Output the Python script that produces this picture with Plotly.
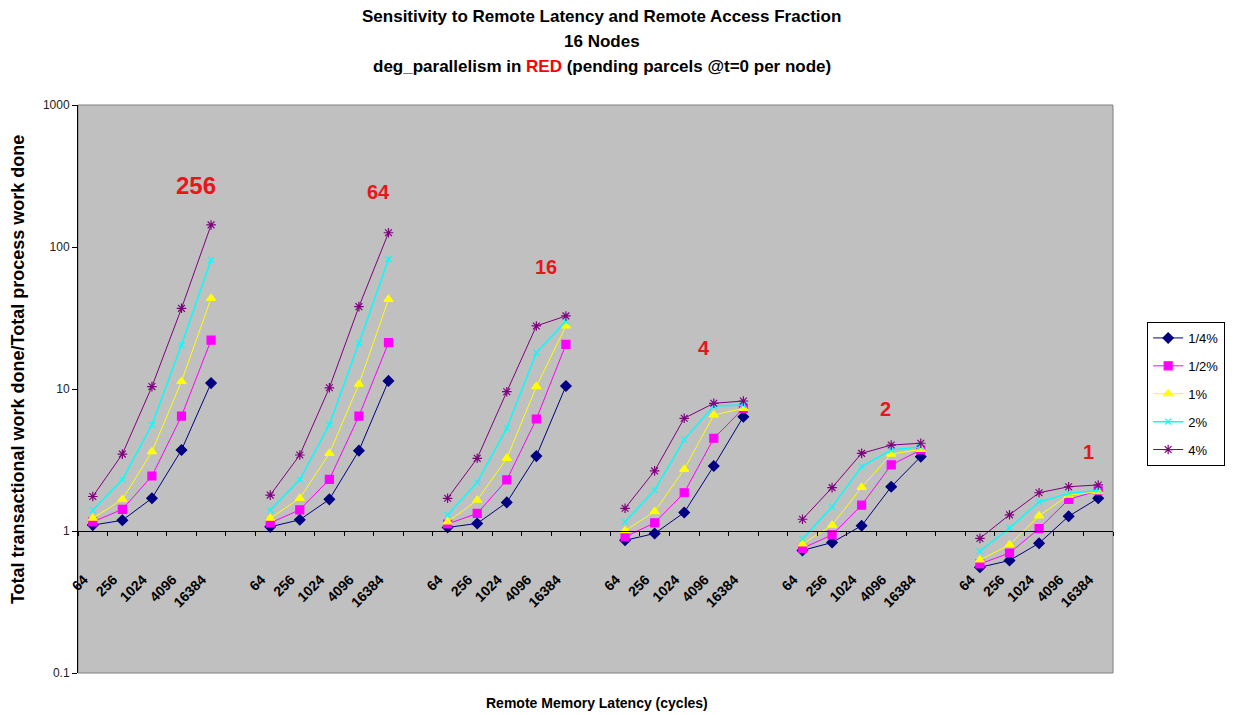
import math
import plotly.graph_objects as go

# Remote memory latency (cycles) sampled within each parallelism group
latencies = ["64", "256", "1024", "4096", "16384"]
# Degree of parallelism (pending parcels at t=0 per node), one group each
parallelism = ["256", "64", "16", "4", "2", "1"]
# Remote access fractions (series)
series_names = ["1/4%", "1/2%", "1%", "2%", "4%"]

# Ratio of transactional to process work, 5 latencies per parallelism group
quarter_pct = [1.10, 1.19, 1.70, 3.72, 11.0,
               1.07, 1.20, 1.67, 3.68, 11.4,
               1.06, 1.13, 1.59, 3.37, 10.5,
               0.86, 0.96, 1.35, 2.87, 6.38,
               0.73, 0.83, 1.09, 2.05, 3.34,
               0.555, 0.62, 0.82, 1.27, 1.70]
half_pct = [1.16, 1.42, 2.44, 6.45, 22.1,
            1.14, 1.41, 2.31, 6.45, 21.2,
            1.12, 1.33, 2.29, 6.15, 20.6,
            0.91, 1.14, 1.86, 4.50, 7.30,
            0.755, 0.94, 1.52, 2.92, 3.72,
            0.586, 0.70, 1.04, 1.67, 1.92]
one_pct = [1.23, 1.67, 3.62, 11.3, 43.5,
           1.23, 1.70, 3.52, 10.8, 42.8,
           1.16, 1.65, 3.25, 10.4, 27.8,
           1.005, 1.37, 2.72, 6.56, 7.31,
           0.81, 1.10, 2.03, 3.48, 3.76,
           0.625, 0.80, 1.28, 1.79, 1.89]
two_pct = [1.40, 2.30, 5.60, 20.4, 81.0,
           1.40, 2.30, 5.60, 21.0, 82.0,
           1.30, 2.20, 5.30, 18.0, 30.0,
           1.16, 1.94, 4.40, 7.60, 7.70,
           0.88, 1.48, 2.84, 3.72, 3.92,
           0.72, 1.05, 1.60, 1.84, 1.94]
four_pct = [1.75, 3.48, 10.4, 37.0, 143.0,
            1.79, 3.43, 10.2, 38.0, 126.0,
            1.70, 3.25, 9.57, 27.8, 32.7,
            1.445, 2.65, 6.22, 7.93, 8.23,
            1.21, 2.02, 3.52, 4.03, 4.15,
            0.888, 1.30, 1.86, 2.05, 2.11]

series_values = [quarter_pct, half_pct, one_pct, two_pct, four_pct]
colors = ["#000080", "#FF00FF", "#FFFF00", "#00FFFF", "#800080"]
symbols = ["diamond", "square", "triangle-up", "x-thin-open", "asterisk-open"]
sizes = [8, 8, 8, 6, 8]

n_lat = len(latencies)
stride = n_lat + 1  # one empty category between groups
n_cat = stride * len(parallelism) - 1

fig = go.Figure()

for name, vals, col, sym, sz in zip(series_names, series_values, colors, symbols, sizes):
    xs, ys = [], []
    for g in range(len(parallelism)):
        for k in range(n_lat):
            xs.append(g * stride + k)
            ys.append(vals[g * n_lat + k])
        xs.append(None)
        ys.append(None)
    fig.add_trace(go.Scatter(
        x=xs, y=ys, name=name, mode="lines+markers",
        connectgaps=False, legendgroup=name,
        line=dict(color=col, width=1.5 if col == "#00FFFF" else 1),
        marker=dict(symbol=sym, size=sz, color=col,
                    line=dict(color=col, width=1.2)),
    ))

tick_pos = [g * stride + k for g in range(len(parallelism)) for k in range(n_lat)]
tick_txt = [latencies[k] for g in range(len(parallelism)) for k in range(n_lat)]
boundaries = [i - 0.5 for i in range(n_cat + 1)]

# Red parallelism labels above each group (x in category units, y in data units)
label_pos = [(3.49, 273), (9.65, 244), (15.33, 72), (20.67, 19.4), (26.79, 7.2), (33.66, 3.6)]
label_size = [24, 20, 20, 20, 20, 20]
for txt, (lx, ly), fs in zip(parallelism, label_pos, label_size):
    fig.add_annotation(x=lx, y=math.log10(ly), xref="x", yref="y", text=txt,
                       showarrow=False,
                       font=dict(family="Liberation Sans", size=fs, color="#E8161B",
                                 weight="bold"),
                       xanchor="center", yanchor="middle")

# Three-line title
title_lines = [
    "Sensitivity to Remote Latency and Remote Access Fraction",
    "16 Nodes",
    "deg_parallelism in <span style='color:#FF0000'>RED</span> (pending parcels @t=0 per node)",
]
for line, py in zip(title_lines, [1.155, 1.111, 1.067]):
    fig.add_annotation(xref="paper", yref="paper", x=0.506, y=py, text=line,
                       showarrow=False, xanchor="center", yanchor="middle",
                       font=dict(family="Liberation Sans", size=17, color="black",
                                 weight="bold"))

# Axis titles
fig.add_annotation(xref="paper", yref="paper", x=0.501, y=-0.053,
                   text="Remote Memory Latency (cycles)", showarrow=False,
                   xanchor="center", yanchor="middle",
                   font=dict(family="Liberation Sans", size=14, color="black", weight="bold"))
fig.add_annotation(xref="paper", yref="paper", x=-0.058, y=0.535,
                   text="Total transactional work done/Total process work done",
                   showarrow=False, textangle=-90, xanchor="center", yanchor="middle",
                   font=dict(family="Liberation Sans", size=18, color="black", weight="bold"))

# Plot-area frame
fig.add_shape(type="rect", xref="paper", yref="paper", x0=0, x1=1, y0=0, y1=1,
              line=dict(color="#808080", width=1), layer="below")

fig.update_layout(
    width=1238, height=715,
    margin=dict(l=78, r=125, t=105, b=42),
    paper_bgcolor="white",
    plot_bgcolor="#C0C0C0",
    showlegend=True,
    legend=dict(x=1.033, y=0.618, xanchor="left", yanchor="top",
                bgcolor="white", bordercolor="black", borderwidth=1,
                font=dict(family="Liberation Sans", size=13, color="black"),
                tracegroupgap=8, itemwidth=30),
    xaxis=dict(
        range=[-0.5, n_cat - 0.5], anchor="free", position=0.25,
        showline=True, linecolor="black", linewidth=1,
        showgrid=False, zeroline=False,
        tickmode="array", tickvals=tick_pos, ticktext=tick_txt,
        ticks="", tickangle=-45, ticklabelstandoff=34, ticklabelshift=-9,
        tickfont=dict(family="Liberation Sans", size=14, color="black", weight="bold"),
        minor=dict(tickmode="array", tickvals=boundaries, ticks="outside",
                   ticklen=4, tickcolor="black", showgrid=False),
    ),
    yaxis=dict(
        type="log", range=[-1, 3],
        tickmode="array", tickvals=[0.1, 1, 10, 100, 1000],
        ticktext=["0.1", "1", "10", "100", "1000"],
        ticks="outside", ticklen=5, tickcolor="black",
        showline=True, linecolor="black", linewidth=1,
        showgrid=False, zeroline=False,
        tickfont=dict(family="Liberation Sans", size=12, color="#222222"),
    ),
    yaxis2=dict(
        type="log", range=[-1, 3], overlaying="y", side="left",
        tickmode="array", tickvals=[1, 10, 100],
        showgrid=True, gridcolor="black", gridwidth=1,
        showticklabels=False, ticks="", showline=False, zeroline=False,
    ),
)

fig.write_html("out.html")
